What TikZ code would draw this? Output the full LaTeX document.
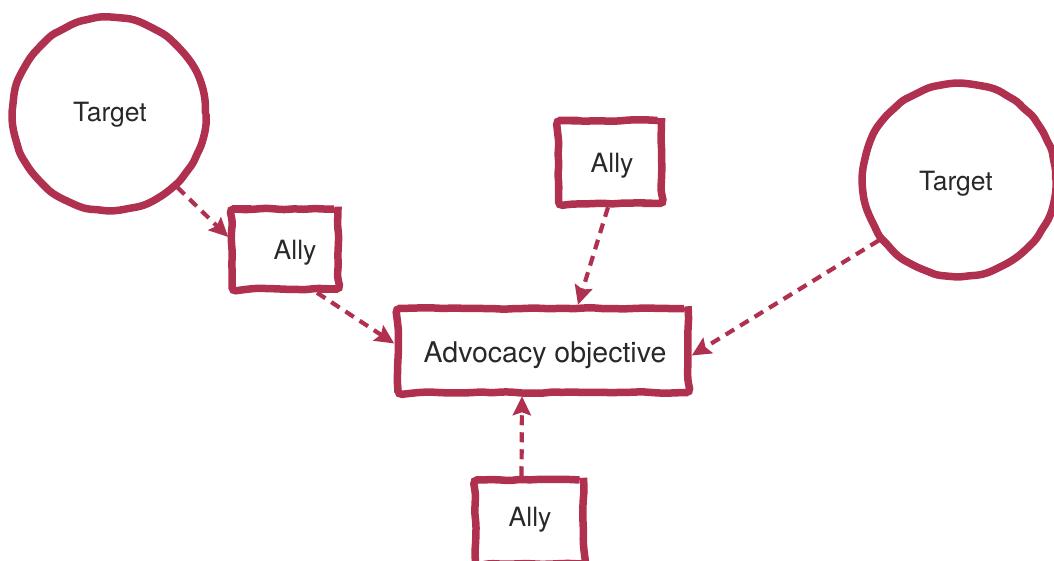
\documentclass[tikz,border=0pt]{standalone}
\usepackage{fontspec}
\setmainfont{TeX Gyre Heros}
\usetikzlibrary{arrows.meta,calc,decorations.pathmorphing}
\definecolor{inkred}{RGB}{176,48,80}
\definecolor{inktext}{RGB}{40,40,40}
\tikzset{
  rough/.style={decorate,decoration={random steps,segment length=10pt,amplitude=0.8pt},rounded corners=4pt},
  target/.style={circle,draw=inkred,line width=7.5pt,minimum size=193pt,inner sep=0pt,rough},
  allybox/.style={rectangle,draw=inkred,line width=7.5pt,inner sep=0pt,rough},
  objbox/.style={rectangle,draw=inkred,line width=7.5pt,inner sep=0pt,rough,
    minimum width=290pt,minimum height=84pt},
  lbl/.style={font=\fontsize{26.5}{30}\selectfont,text=inktext,inner sep=0pt},
  link/.style={draw=inkred,line width=4.2pt,dash pattern=on 10pt off 7pt,
    -{Stealth[length=19pt,width=18pt,inset=3pt]}}
}
\begin{document}
\pgfmathsetmacro{\dummyseed}{1}
\pgfmathsetseed{11}
\begin{tikzpicture}[x=1pt,y=-1pt]
\useasboundingbox (0,0) rectangle (1054,561);
% nodes
\node[target] (tL) at (109,114) {};
\node[lbl] (tLt) at (110,115) {Target};
\node[target] (tR) at (959,180) {};
\node[lbl] (tRt) at (956,184) {Target};
\node[allybox,minimum width=106pt,minimum height=80pt] (a1) at (285,249) {};
\node[lbl] (a1t) at (295,253) {Ally};
\node[allybox,minimum width=103pt,minimum height=83pt] (a2) at (610,162) {};
\node[lbl] (a2t) at (612,166) {Ally};
\node[objbox] (obj) at (543,350.5) {};
\node[lbl,font=\fontsize{28.5}{32}\selectfont] (objt) at (545,355) {Advocacy objective};
\node[allybox,minimum width=108pt,minimum height=84pt] (a3) at (529.5,522) {};
\node[lbl] (a3t) at (530,520) {Ally};
% connectors
\draw[link] (tL.-47) -- ($(a1.west)+(0,-12)$);
\draw[link] ($(a1.south)+(32,0)$) -- ($(obj.west)+(0,-7)$);
\draw[link] ($(a2.south)+(-2,0)$) -- ($(obj.north)+(35,0)$);
\draw[link] (tR.217) -- ($(obj.east)+(0,5)$);
\draw[link] ($(a3.north)+(-8,0)$) -- ($(obj.south)+(-21,0)$);
\end{tikzpicture}
\end{document}
